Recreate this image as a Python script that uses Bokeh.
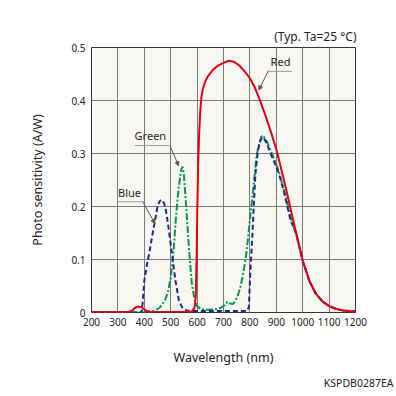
from bokeh.plotting import figure
from bokeh.models import Label, Title, Arrow, NormalHead, Range1d, FixedTicker
from bokeh.embed import file_html
from bokeh.resources import INLINE

# ---- data ----
red_nm = [200, 340, 355, 365, 375, 385, 395, 405, 420, 450, 500, 550, 580, 590, 595, 598, 601,
          604, 608, 612, 616, 622, 630, 640, 660, 680, 700, 720, 740, 760, 780, 800, 820, 840,
          860, 880, 900, 925, 950, 975, 1000, 1025, 1050, 1075, 1100, 1125, 1150, 1175, 1200]
red_val = [0.001, 0.001, 0.004, 0.009, 0.011, 0.011, 0.008, 0.004, 0.001, 0.001, 0.001, 0.001,
           0.002, 0.008, 0.03, 0.10, 0.20, 0.28, 0.34, 0.38, 0.405, 0.422, 0.435, 0.445, 0.458,
           0.466, 0.471, 0.475, 0.473, 0.466, 0.455, 0.442, 0.423, 0.398, 0.37, 0.34, 0.308,
           0.258, 0.205, 0.15, 0.098, 0.06, 0.035, 0.021, 0.012, 0.007, 0.004, 0.003, 0.002]

blue_nm = [200, 390, 394, 400, 410, 420, 430, 440, 450, 458, 466, 474, 480, 486, 493, 505, 518,
           531, 545, 560, 580, 700, 790, 796, 802, 809, 815, 821, 830, 840, 847, 855, 865, 878,
           890, 910, 928, 954, 975, 1000, 1025, 1050, 1075, 1100, 1125, 1150, 1175, 1200]
blue_val = [0.0, 0.0, 0.02, 0.06, 0.09, 0.115, 0.145, 0.172, 0.2, 0.21, 0.213, 0.207, 0.198,
            0.18, 0.155, 0.11, 0.06, 0.023, 0.008, 0.004, 0.003, 0.003, 0.003, 0.01, 0.08, 0.142,
            0.205, 0.262, 0.305, 0.325, 0.331, 0.327, 0.318, 0.3, 0.287, 0.262, 0.23, 0.174,
            0.15, 0.098, 0.06, 0.035, 0.021, 0.012, 0.007, 0.004, 0.003, 0.002]

green_nm = [200, 350, 440, 460, 480, 490, 500, 510, 520, 530, 540, 545, 550, 560, 570, 580, 590,
            600, 615, 640, 670, 690, 705, 715, 725, 735, 745, 755, 765, 775, 785, 795, 803, 810,
            818, 826, 835, 844, 850, 865, 880, 895, 910, 925, 940, 955, 975, 1000, 1025, 1050,
            1075, 1100, 1125, 1150, 1175, 1200]
green_val = [0.0, 0.0, 0.003, 0.01, 0.025, 0.04, 0.065, 0.11, 0.18, 0.235, 0.27, 0.275, 0.26,
             0.19, 0.115, 0.055, 0.025, 0.012, 0.006, 0.005, 0.006, 0.009, 0.014, 0.02, 0.017,
             0.016, 0.022, 0.033, 0.05, 0.075, 0.105, 0.15, 0.19, 0.22, 0.26, 0.298, 0.318,
             0.332, 0.334, 0.322, 0.304, 0.285, 0.266, 0.238, 0.21, 0.178, 0.148, 0.098, 0.06,
             0.035, 0.021, 0.012, 0.007, 0.004, 0.003, 0.002]

x_ticks = [200, 300, 400, 500, 600, 700, 800, 900, 1000, 1100, 1200]
y_ticks = [0, 0.1, 0.2, 0.3, 0.4, 0.5]
y_tick_labels = {0: "0", 0.1: "0.1", 0.2: "0.2", 0.3: "0.3", 0.4: "0.4", 0.5: "0.5"}

FONT = "Noto Sans"
TXT = "#222222"

p = figure(width=396, height=396, output_backend="svg", toolbar_location=None,
           x_range=Range1d(200, 1200), y_range=Range1d(0, 0.5),
           min_border_left=91, min_border_right=41, min_border_top=47, min_border_bottom=84)

p.background_fill_color = "#F8F7F1"
p.border_fill_color = "white"
p.outline_line_color = "#333333"
p.outline_line_width = 1

p.title.text = "(Typ. Ta=25 °C)"
p.title.align = "right"
p.title.text_font = FONT
p.title.text_font_size = "12px"
p.title.text_font_style = "normal"
p.title.text_color = TXT
p.title.standoff = 6
p.title.offset = -1

for ax in (p.xaxis[0], p.yaxis[0]):
    ax.axis_line_color = None
    ax.major_tick_line_color = None
    ax.minor_tick_line_color = None
    ax.major_tick_out = 0
    ax.major_tick_in = 0
    ax.major_label_text_font = FONT
    ax.major_label_text_font_size = "10px"
    ax.major_label_text_color = TXT
    ax.axis_label_text_font = FONT
    ax.axis_label_text_font_size = "12.5px"
    ax.axis_label_text_font_style = "normal"
    ax.axis_label_text_color = TXT

p.xaxis.ticker = FixedTicker(ticks=x_ticks)
p.yaxis.ticker = FixedTicker(ticks=y_ticks)
p.yaxis.major_label_overrides = y_tick_labels
p.xaxis.major_label_standoff = 5
p.yaxis.major_label_standoff = 6
p.xaxis.axis_label = "Wavelength (nm)"
p.yaxis.axis_label = "Photo sensitivity (A/W)"
p.xaxis.axis_label_standoff = 20
p.yaxis.axis_label_standoff = 22

p.xgrid.ticker = FixedTicker(ticks=x_ticks)
p.ygrid.ticker = FixedTicker(ticks=y_ticks)
p.grid.grid_line_color = "#7a7a7a"
p.grid.grid_line_width = 1

p.line(green_nm, green_val, line_color="#00994D", line_width=2, line_dash="7 2 2 2")
p.line(blue_nm, blue_val, line_color="#1B2A8C", line_width=2, line_dash="5 3")
p.line(red_nm, red_val, line_color="#E8000E", line_width=2)

# annotations: labels with leader lines
def callout(text, tx, ty, ux0, ux1, ax0, ay0, ax1, ay1):
    p.add_layout(Label(x=tx, y=ty, text=text, text_align="center", text_baseline="bottom",
                       text_font=FONT, text_font_size="11px", text_color=TXT))
    p.line([ux0, ux1], [ay0, ay0], line_color="#9a9a9a", line_width=1)
    p.add_layout(Arrow(x_start=ax0, y_start=ay0, x_end=ax1, y_end=ay1, line_color="#555555",
                       line_width=1, end=NormalHead(size=4, fill_color="#555555",
                                                    line_color="#555555")))

callout("Red", 916, 0.459, 865, 960, 869, 0.455, 834, 0.42)
callout("Green", 423, 0.319, 364, 493, 497, 0.315, 530, 0.277)
callout("Blue", 344, 0.213, 301, 398, 394, 0.209, 440, 0.168)

p.add_layout(Title(text="KSPDB0287EA", align="right", text_font=FONT,
                   text_font_size="10.5px", text_font_style="normal", text_color=TXT,
                   standoff=10, offset=-38), "below")

open("out.html", "w").write(file_html(p, INLINE))
